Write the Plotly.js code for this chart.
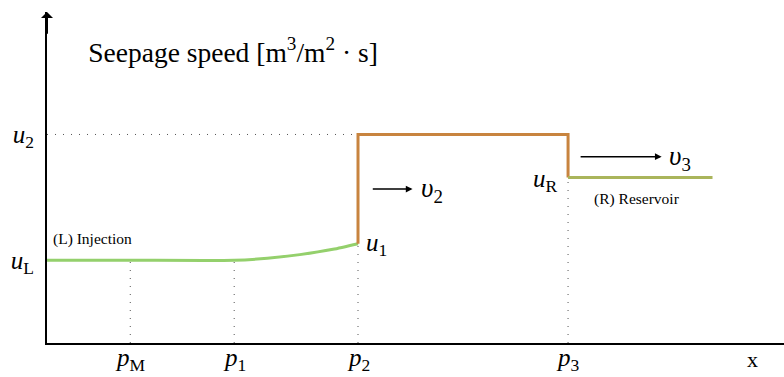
<!DOCTYPE html>
<html>
<head>
<meta charset="utf-8">
<script src="https://cdn.plot.ly/plotly-3.0.1.min.js"></script>
<style>
  html, body { margin: 0; padding: 0; background: #fff; }
  #chart { width: 784px; height: 377px; }
  #chart text { font-family: "Liberation Serif", "Times New Roman", serif !important; }
</style>
</head>
<body>
<div id="chart"></div>
<script>
// Positions along the flow direction (x) and seepage speeds (u)
const positionNames = ['pM', 'p1', 'p2', 'p3', 'xEnd'];
const positions = [1.13, 2.54, 4.22, 7.07, 9.03];
const xLabelPos = 9.57;
const tickLabels = ['<i>p</i><sub>M</sub>', '<i>p</i><sub>1</sub>', '<i>p</i><sub>2</sub>', '<i>p</i><sub>3</sub>', 'x'];

const speedNames = ['uL', 'u1', 'uR', 'u2'];
const speeds = [2.5, 3.0, 5.0, 6.3];
const speedLabels = ['<i>u</i><sub>L</sub>', '<i>u</i><sub>2</sub>'];

// Injection zone: flat at uL, then rising smoothly up to u1 at p2
const injectionX = [0, 1.13, 2.54, 2.99, 3.43, 3.88, 4.22];
const injectionU = [2.5, 2.5, 2.5, 2.56, 2.67, 2.83, 3.0];

// Shock zone between p2 and p3
const shockX = [4.22, 4.22, 7.07, 7.07];
const shockU = [3.0, 6.3, 6.3, 5.0];

// Reservoir zone beyond p3
const reservoirX = [7.07, 9.03];
const reservoirU = [5.0, 5.0];

const P = Object.fromEntries(positionNames.map((n, i) => [n, positions[i]]));
const U = Object.fromEntries(speedNames.map((n, i) => [n, speeds[i]]));

const SERIF = '"Liberation Serif", "Times New Roman", serif';
const dotStyle = { color: '#555', width: 1, dash: '1px,7px' };

function guide(xs, ys) {
  return { x: xs, y: ys, mode: 'lines', line: dotStyle, hoverinfo: 'skip', showlegend: false };
}

const traces = [
  guide([0, P.p2], [U.u2, U.u2]),
  guide([P.pM, P.pM], [0, U.uL]),
  guide([P.p1, P.p1], [0, U.uL]),
  guide([P.p2, P.p2], [0, U.u1]),
  guide([P.p3, P.p3], [0, U.uR]),
  { x: injectionX, y: injectionU, mode: 'lines', line: { color: '#94d06c', width: 3, shape: 'spline', smoothing: 0.6 }, showlegend: false },
  { x: shockX, y: shockU, mode: 'lines', line: { color: '#c8843f', width: 3 }, showlegend: false },
  { x: reservoirX, y: reservoirU, mode: 'lines', line: { color: '#aab55b', width: 3 }, showlegend: false }
];

function arrow(x0, x1, y) {
  return { x: x1, y: y, ax: x0, ay: y, axref: 'x', ayref: 'y', xref: 'x', yref: 'y',
           text: '', showarrow: true, arrowhead: 2, arrowsize: 0.9, arrowwidth: 1.5, arrowcolor: '#000' };
}
function label(text, x, y, opts) {
  return Object.assign({ x: x, y: y, xref: 'x', yref: 'y', text: text, showarrow: false,
                         font: { family: SERIF, size: 25, color: '#000' } }, opts || {});
}

const v2y = 4.65, v3y = 5.63;
const annotations = [
  // vertical axis arrow head
  { x: 0, y: 10, ax: 0, ay: 9.3, axref: 'x', ayref: 'y', xref: 'x', yref: 'y', text: '',
    showarrow: true, arrowhead: 1, arrowsize: 1, arrowwidth: 2, arrowcolor: '#000' },
  label('<i>u</i><sub>1</sub>', P.p2, U.u1, { xanchor: 'left', yanchor: 'middle', xshift: 6, yshift: -1 }),
  label('<i>u</i><sub>R</sub>', P.p3, U.uR, { xanchor: 'right', yanchor: 'middle', xshift: -8, yshift: -3 }),
  label('(L) Injection', 0, U.uL, { xanchor: 'left', yanchor: 'middle', xshift: 4, yshift: 21, font: { family: SERIF, size: 15.5, color: '#000' } }),
  label('(R) Reservoir', (P.p3 + P.xEnd) / 2, U.uR, { xanchor: 'center', yanchor: 'middle', xshift: -3, yshift: -21, font: { family: SERIF, size: 15.5, color: '#000' } }),
  arrow(4.40, 4.96, v2y),
  label('<i>υ</i><sub>2</sub>', 4.96, v2y, { xanchor: 'left', yanchor: 'middle', xshift: 6, yshift: -1, font: { family: SERIF, size: 27, color: '#000' } }),
  arrow(7.22, 8.34, v3y),
  label('<i>υ</i><sub>3</sub>', 8.34, v3y, { xanchor: 'left', yanchor: 'middle', xshift: 5, yshift: -1, font: { family: SERIF, size: 27, color: '#000' } })
];

// Labels under the horizontal axis, placed at their positions through the x scale
const xTickVals = positions.slice(0, 4).concat([xLabelPos]);
xTickVals.forEach((xv, i) => {
  annotations.push({
    x: xv, y: 0, xref: 'x', yref: 'paper', text: tickLabels[i], showarrow: false,
    xanchor: 'center', yanchor: 'middle', yshift: -16,
    font: { family: SERIF, size: i === 4 ? 22 : 25, color: '#000' }
  });
});

const layout = {
  width: 784, height: 377,
  margin: { l: 47, r: 0, t: 12, b: 34, pad: 0 },
  paper_bgcolor: '#fff', plot_bgcolor: '#fff',
  showlegend: false,
  title: {
    text: 'Seepage speed [m<sup>3</sup>/m<sup>2</sup> · s]',
    font: { family: SERIF, size: 27.5, color: '#000' },
    xref: 'paper', yref: 'paper', x: 0.056, y: 0.878, xanchor: 'left', yanchor: 'middle'
  },
  xaxis: {
    range: [0, 10], showgrid: false, zeroline: false,
    showline: true, linecolor: '#000', linewidth: 2,
    ticks: '', showticklabels: false,
    fixedrange: true
  },
  yaxis: {
    range: [0, 10], showgrid: false, zeroline: false,
    showline: true, linecolor: '#000', linewidth: 2,
    ticks: '', tickmode: 'array',
    tickvals: [U.uL, U.u2],
    ticktext: speedLabels,
    tickfont: { family: SERIF, size: 25, color: '#000' },
    ticklabelstandoff: 6,
    fixedrange: true
  },
  annotations: annotations
};

Plotly.newPlot('chart', traces, layout, { staticPlot: true, displayModeBar: false });
</script>
</body>
</html>
